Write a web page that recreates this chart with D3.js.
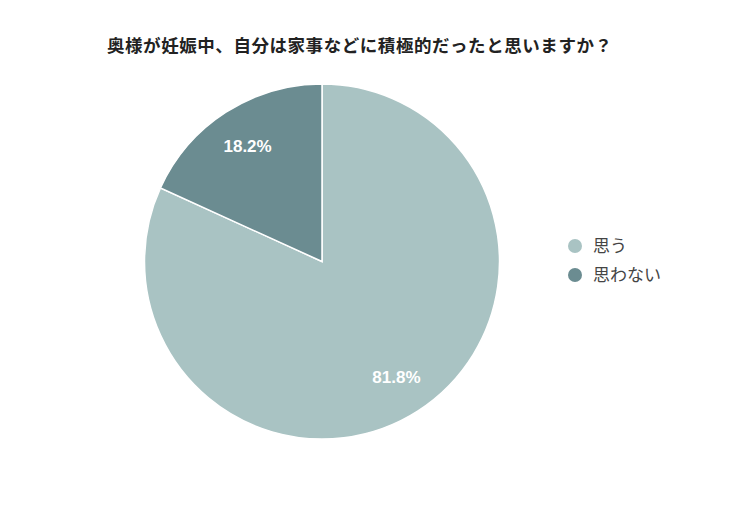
<!DOCTYPE html>
<html>
<head>
<meta charset="utf-8">
<script src="https://cdn.jsdelivr.net/npm/d3@7"></script>
<style>
  body { margin: 0; background: #fff; }
  svg { display: block; font-family: Arial, "Liberation Sans", "Noto Sans CJK JP", sans-serif; }
</style>
</head>
<body>
<div id="chart"></div>
<script>
const categories = ['思う', '思わない'];
const values = [81.8, 18.2];
const colors = ['#a9c3c3', '#6b8c91'];
const title = '奥様が妊娠中、自分は家事などに積極的だったと思いますか？';

const width = 739;
const height = 514;
const cx = 322, cy = 261.5, radius = 177.5;

const svg = d3.select('#chart')
  .append('svg')
  .attr('width', width)
  .attr('height', height);

// title
svg.append('text')
  .attr('x', 107)
  .attr('y', 52)
  .attr('font-size', 17.5)
  .attr('font-weight', 'bold')
  .attr('fill', '#222')
  .attr('font-family', '"Noto Sans CJK JP", sans-serif')
  .attr('textLength', 505)
  .attr('lengthAdjust', 'spacing')
  .text(title);

const data = categories.map((c, i) => ({ name: c, value: values[i], color: colors[i] }));

const pie = d3.pie().sort(null).value(d => d.value);
const arc = d3.arc().innerRadius(0).outerRadius(radius);
const labelArc = d3.arc().innerRadius(radius * 0.775).outerRadius(radius * 0.775);

const g = svg.append('g').attr('transform', `translate(${cx},${cy})`);

g.selectAll('path')
  .data(pie(data))
  .join('path')
  .attr('d', arc)
  .attr('fill', d => d.data.color)
  .attr('stroke', '#fff')
  .attr('stroke-width', 1.5);

g.selectAll('text')
  .data(pie(data))
  .join('text')
  .attr('transform', d => `translate(${labelArc.centroid(d)})`)
  .attr('text-anchor', 'middle')
  .attr('dy', '0.35em')
  .attr('font-size', 17)
  .attr('font-weight', 'bold')
  .attr('fill', '#fff')
  .text(d => d.data.value.toFixed(1) + '%');

// legend
const legend = svg.append('g').attr('transform', 'translate(575,246)');
const rows = legend.selectAll('g')
  .data(data)
  .join('g')
  .attr('transform', (d, i) => `translate(0,${i * 29})`);

rows.append('circle')
  .attr('r', 7)
  .attr('fill', d => d.color);

rows.append('text')
  .attr('x', 18)
  .attr('dy', '0.35em')
  .attr('font-size', 17)
  .attr('fill', '#444')
  .attr('font-family', '"Noto Sans CJK JP", sans-serif')
  .text(d => d.name);
</script>
</body>
</html>
